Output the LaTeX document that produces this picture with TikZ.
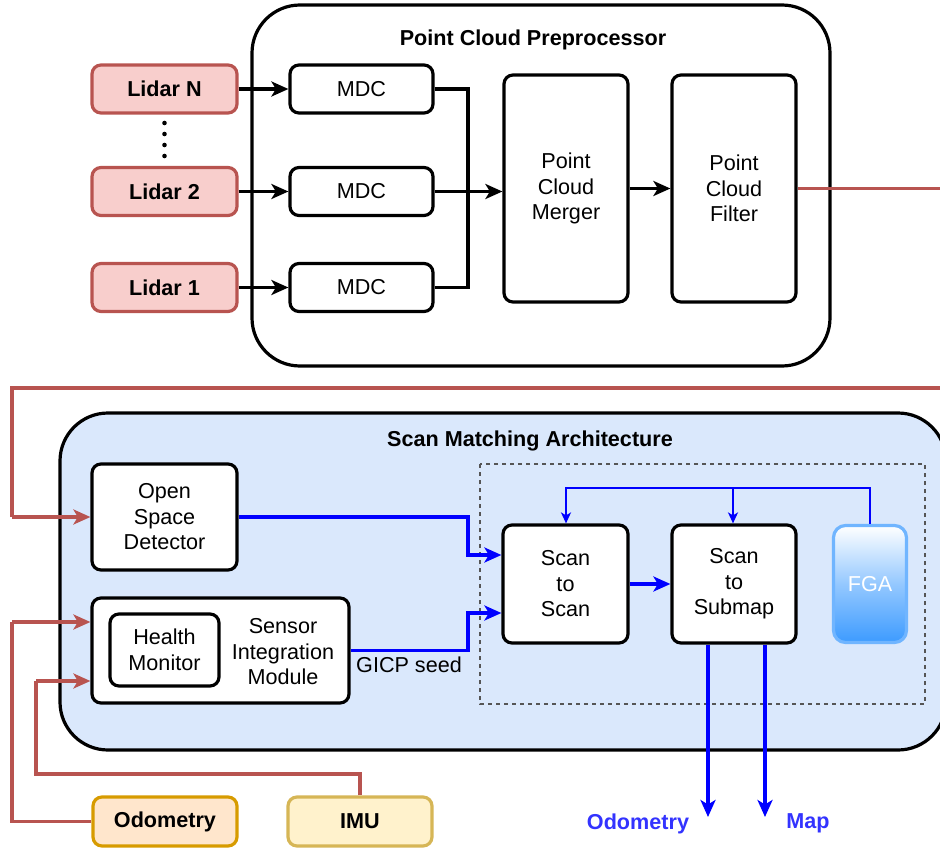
\documentclass[tikz,border=0pt]{standalone}
\usepackage{fontspec}
\setmainfont{Liberation Sans}
\usetikzlibrary{arrows.meta}
\definecolor{redS}{HTML}{B85450}
\definecolor{redF}{HTML}{F8CECC}
\definecolor{orS}{HTML}{D79B00}
\definecolor{orF}{HTML}{FFE6CC}
\definecolor{yeS}{HTML}{D6B656}
\definecolor{yeF}{HTML}{FFF2CC}
\definecolor{blF}{HTML}{DAE8FC}
\definecolor{fgaS}{HTML}{70B5FF}
\definecolor{fgaB}{HTML}{3D9BFF}
\definecolor{outB}{HTML}{3333FF}
\definecolor{dashG}{HTML}{555555}
\newcommand{\fsz}{\fontsize{21.6}{25.5}\selectfont}
\begin{document}
\begin{tikzpicture}[x=1pt,y=-1pt,
  box/.style={draw, line width=3.2pt, rounded corners=9pt, fill=white, align=center, inner sep=0pt, font=\fsz},
  lidar/.style={box, draw=redS, fill=redF, font=\fsz\bfseries},
  bigbox/.style={draw, line width=3.2pt, rounded corners=48pt, inner sep=0pt},
  ttl/.style={font=\fsz\bfseries, inner sep=0pt},
  lbl/.style={font=\fsz, align=center, inner sep=0pt},
  tip/.style={-{Stealth[length=17pt,width=15pt,inset=4.5pt]}},
  blk/.style={line width=3.8pt, tip},
  blkline/.style={line width=3.8pt},
  redl/.style={line width=3.4pt, draw=redS},
  reda/.style={redl, tip},
  blu/.style={line width=3.8pt, draw=blue, tip},
  blut/.style={line width=1.7pt, draw=blue, -{Stealth[length=11pt,width=10pt,inset=3pt]}},
  blutl/.style={line width=1.7pt, draw=blue}
]
\useasboundingbox (0,0) rectangle (940,848);

% ---------- Point Cloud Preprocessor ----------
\node[bigbox, fill=white, minimum width=578, minimum height=361] (pcp) at (541,185.5) {};
\node[ttl] (pcpt) at (533,40) {Point Cloud Preprocessor};

\node[lidar, minimum width=145, minimum height=48] (lN) at (164.5,89) {Lidar N};
\node[lidar, minimum width=145, minimum height=48] (l2) at (164.5,191.5) {Lidar 2};
\node[lidar, minimum width=145, minimum height=48] (l1) at (164.5,287.5) {Lidar 1};
\foreach \yy in {123,134,145,156} \fill (164.5,\yy) circle[radius=2.3pt];

\node[box, minimum width=143, minimum height=48] (mN) at (361.5,89) {MDC};
\node[box, minimum width=143, minimum height=48] (m2) at (361.5,191.5) {MDC};
\node[box, minimum width=143, minimum height=48] (m1) at (361.5,287.5) {MDC};

\node[box, minimum width=124, minimum height=227] (mrg) at (566,188.5) {Point\\Cloud\\Merger};
\node[box, minimum width=124, minimum height=227] (flt) at (734,188.5) {Point\\Cloud\\Filter};

\draw[blk] (lN) -- (mN);
\draw[blk] (l2) -- (m2);
\draw[blk] (l1) -- (m1);
\coordinate (jx) at (468,0);
\draw[blkline, line join=miter] (mN.east) -- (mN.east -| jx) -- (m1.east -| jx) -- (m1.east);
\draw[blk] (m2.east) -- (mrg.west |- m2.east);
\draw[blk] (mrg) -- (flt);

% red feedback from filter
\coordinate (rA) at (946,188.5);
\coordinate (rB) at (946,388);
\coordinate (rC) at (12,388);
\draw[redl] (flt.east) -- (rA);

% ---------- Scan Matching Architecture ----------
\node[bigbox, fill=blF, minimum width=886, minimum height=337] (sm) at (503,581.5) {};
\node[ttl] (smt) at (530,441) {Scan Matching Architecture};

\draw[dashG, line width=1.4pt, dash pattern=on 4pt off 4pt] (480,464) rectangle (925,704);

\node[box, minimum width=145, minimum height=106] (osd) at (164.5,517) {Open\\Space\\Detector};
\node[box, minimum width=257, minimum height=105] (sim) at (220.5,650.5) {};
\node[box, minimum width=109, minimum height=72] (hm) at (164.5,650) {Health\\Monitor};
\node[lbl] (simt) at (283,652) {Sensor\\Integration\\Module};
\node[lbl, anchor=west] (gicp) at (356,665) {GICP seed};

\node[box, minimum width=125, minimum height=118] (s2s) at (565.5,584) {Scan\\to\\Scan};
\node[box, minimum width=124, minimum height=118] (s2m) at (734,584) {Scan\\to\\Submap};
\node[box, draw=fgaS, top color=white, bottom color=fgaB, middle color=fgaB!55!white, rounded corners=12pt, minimum width=73, minimum height=117, text=white] (fga) at (870,584) {FGA};

\draw[redl, line join=miter] (rA) -- (rB) -- (rC) -- (rC |- osd.west);
\draw[reda] (rC |- osd.west) -- (osd.west);

% thin blue feedback from FGA
\coordinate (bt) at (0,488);
\draw[blutl, line join=miter] (fga.north) -- (fga.north |- bt) -- (566,488) -- (566,500);
\draw[blut] (566,488) -- (s2s.north -| 566,0);
\draw[blut] (733,488) -- (s2m.north -| 733,0);

% thick blue into Scan to Scan
\coordinate (bx) at (468,0);
\coordinate (in1) at (0,555);
\coordinate (in2) at (0,613);
\draw[blu, line join=miter] (osd.east) -- (osd.east -| bx) -- (bx |- in1) -- (s2s.west |- in1);
\draw[blu, line join=miter] (sim.east) -- (sim.east -| bx) -- (bx |- in2) -- (s2s.west |- in2);
\draw[blu] (s2s) -- (s2m);

% outputs
\node[font=\fsz\bfseries, text=outB, inner sep=0pt] (oodo) at (638,823.5) {Odometry};
\node[font=\fsz\bfseries, text=outB, inner sep=0pt] (omap) at (808,823.5) {Map};
\draw[blu] (s2m.south -| 708,0) -- (708,817);
\draw[blu] (s2m.south -| 765,0) -- (765,817);

% ---------- Odometry & IMU ----------
\node[box, draw=orS, fill=orF, font=\fsz\bfseries, minimum width=144, minimum height=49] (odo) at (165,821.5) {Odometry};
\node[box, draw=yeS, fill=yeF, font=\fsz\bfseries, minimum width=144, minimum height=49] (imu) at (360,821.5) {IMU};

\coordinate (oL) at (12,622);
\coordinate (iL) at (36,681);
\draw[redl, line join=miter] (odo.west) -- (odo.west -| oL) -- (oL);
\draw[reda] (oL) -- (sim.west |- oL);
\draw[redl, line join=miter] (imu.north) -- (imu.north |- 0,774) -- (iL |- 0,774) -- (iL);
\draw[reda] (iL) -- (sim.west |- iL);
\end{tikzpicture}
\end{document}
